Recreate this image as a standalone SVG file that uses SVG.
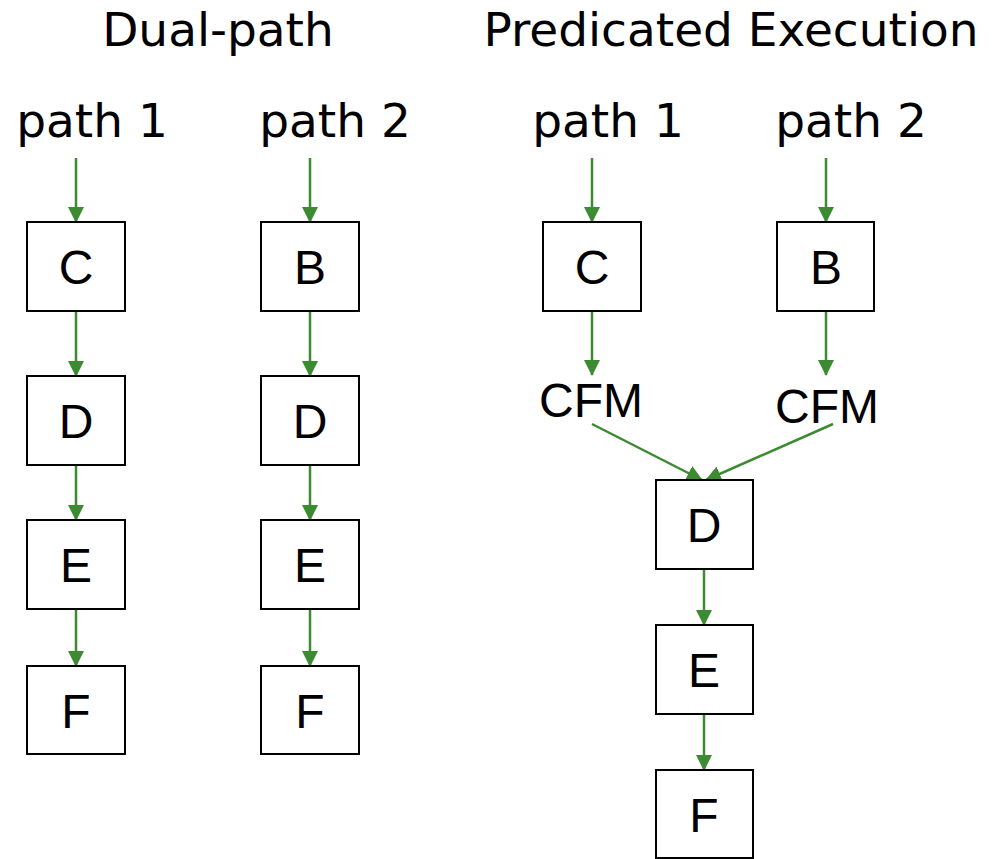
<svg xmlns="http://www.w3.org/2000/svg" width="1000" height="859" viewBox="0 0 1000 859">
<style>
.box{fill:#fff;stroke:#000;stroke-width:2}
.lbl{font-family:"Liberation Sans",Arial,sans-serif;font-size:48px;fill:#000;text-anchor:middle}
.ttl{font-family:"DejaVu Sans",Verdana,sans-serif;font-size:47px;fill:#000;text-anchor:middle}
.cn{stroke:#3c8a32;stroke-width:2.5;fill:none;marker-end:url(#ah)}
</style>
<defs>
<marker id="ah" markerUnits="userSpaceOnUse" markerWidth="16" markerHeight="16" viewBox="0 0 16 16" refX="15" refY="8" orient="auto">
<path d="M0,0 L16,8 L0,16 Z" fill="#3c8a32"/>
</marker>
</defs>
<rect width="1000" height="859" fill="#fff"/>
<g id="titles">
<text class="ttl" x="218" y="46">Dual-path</text>
<text class="ttl" x="731" y="46">Predicated Execution</text>
<text class="ttl" x="92" y="137">path 1</text>
<text class="ttl" x="335" y="137">path 2</text>
<text class="ttl" x="608" y="137">path 1</text>
<text class="ttl" x="851" y="137">path 2</text>
</g>
<g id="connectors">
<line class="cn" x1="76" y1="158" x2="76" y2="222"/>
<line class="cn" x1="76" y1="311" x2="76" y2="376"/>
<line class="cn" x1="76" y1="465" x2="76" y2="520"/>
<line class="cn" x1="76" y1="609" x2="76" y2="666"/>
<line class="cn" x1="310" y1="158" x2="310" y2="222"/>
<line class="cn" x1="310" y1="311" x2="310" y2="376"/>
<line class="cn" x1="310" y1="465" x2="310" y2="520"/>
<line class="cn" x1="310" y1="609" x2="310" y2="666"/>
<line class="cn" x1="592" y1="158" x2="592" y2="222"/>
<line class="cn" x1="826" y1="158" x2="826" y2="222"/>
<line class="cn" x1="592" y1="311" x2="592" y2="375"/>
<line class="cn" x1="826" y1="311" x2="826" y2="375"/>
<line class="cn" x1="592" y1="424" x2="702" y2="480"/>
<line class="cn" x1="833" y1="424" x2="706" y2="480"/>
<line class="cn" x1="704" y1="569" x2="704" y2="625"/>
<line class="cn" x1="704" y1="714" x2="704" y2="770"/>
</g>
<g id="cfm1"><text class="lbl" x="591" y="417">CFM</text></g>
<g id="cfm2"><text class="lbl" x="827" y="423">CFM</text></g>
<g id="l-C"><rect class="box" x="27" y="222" width="98" height="89"/><text class="lbl" x="76" y="284">C</text></g>
<g id="l-D"><rect class="box" x="27" y="376" width="98" height="89"/><text class="lbl" x="76" y="438">D</text></g>
<g id="l-E"><rect class="box" x="27" y="520" width="98" height="89"/><text class="lbl" x="76" y="582">E</text></g>
<g id="l-F"><rect class="box" x="27" y="666" width="98" height="88"/><text class="lbl" x="76" y="728">F</text></g>
<g id="m-B"><rect class="box" x="261" y="222" width="98" height="89"/><text class="lbl" x="310" y="284">B</text></g>
<g id="m-D"><rect class="box" x="261" y="376" width="98" height="89"/><text class="lbl" x="310" y="438">D</text></g>
<g id="m-E"><rect class="box" x="261" y="520" width="98" height="89"/><text class="lbl" x="310" y="582">E</text></g>
<g id="m-F"><rect class="box" x="261" y="666" width="98" height="88"/><text class="lbl" x="310" y="728">F</text></g>
<g id="r-C"><rect class="box" x="543" y="222" width="98" height="89"/><text class="lbl" x="592" y="284">C</text></g>
<g id="r-B"><rect class="box" x="777" y="222" width="97" height="89"/><text class="lbl" x="826" y="284">B</text></g>
<g id="r-D"><rect class="box" x="656" y="480" width="97" height="89"/><text class="lbl" x="704" y="542">D</text></g>
<g id="r-E"><rect class="box" x="656" y="625" width="97" height="89"/><text class="lbl" x="704" y="687">E</text></g>
<g id="r-F"><rect class="box" x="656" y="770" width="97" height="88"/><text class="lbl" x="704" y="832">F</text></g>
</svg>
